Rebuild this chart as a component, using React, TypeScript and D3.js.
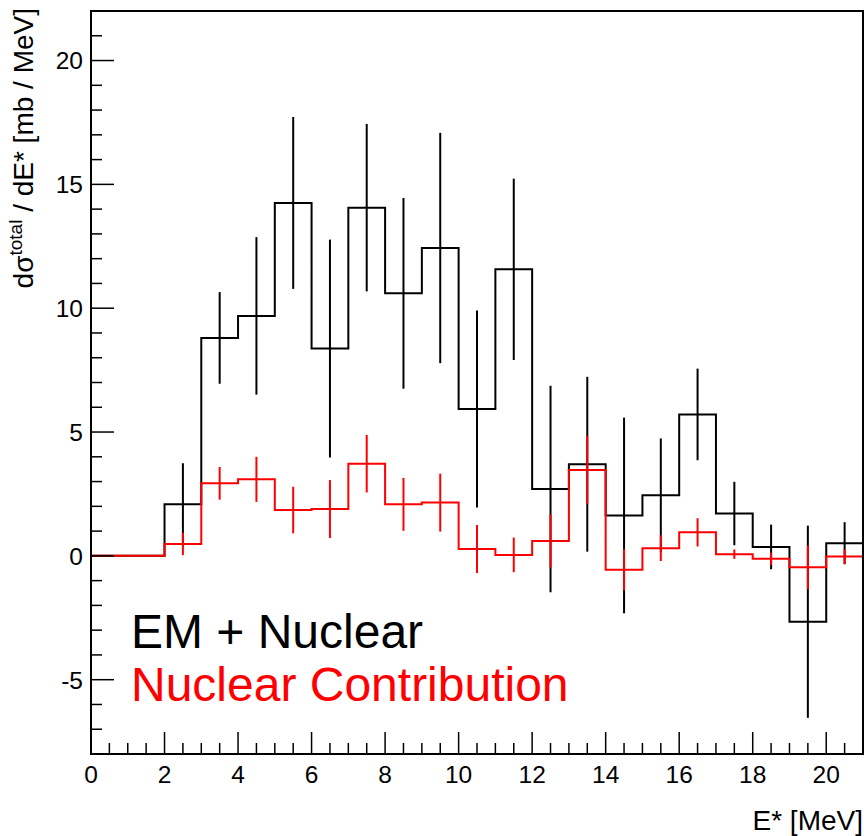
import React from "react";
import * as d3 from "d3";

// Bin lower edges (width 1 MeV)
const binEdges = [0,1,2,3,4,5,6,7,8,9,10,11,12,13,14,15,16,17,18,19,20];
const binWidth = 1;

// EM + Nuclear
const emValues = [0,0,2.08,8.80,9.69,14.25,8.37,14.06,10.60,12.43,5.93,11.57,2.70,3.70,1.63,2.45,5.71,1.71,0.36,-2.66,0.51];
const emErrors = [0,0,1.66,1.85,3.18,3.47,4.40,3.38,3.85,4.65,3.98,3.66,4.17,3.53,3.95,2.29,1.85,1.28,0.90,3.88,0.85];

// Nuclear contribution
const nucValues = [0,0,0.48,2.93,3.09,1.85,1.89,3.72,2.08,2.15,0.28,0.04,0.60,3.47,-0.56,0.31,0.95,0.07,-0.12,-0.46,-0.03];
const nucErrors = [0,0,0.45,0.66,0.91,0.94,1.17,1.16,1.07,1.17,0.97,0.70,1.07,1.38,0.83,0.52,0.57,0.19,0.25,0.88,0.30];

const xMajorTicks = [0,2,4,6,8,10,12,14,16,18,20];
const yMajorTicks = [-5,0,5,10,15,20];

const legendLabels = ["EM + Nuclear", "Nuclear Contribution"];

const FONT = "'Liberation Sans', Arial, Helvetica, sans-serif";

export default function App() {
  const W = 864, H = 836;
  const left = 91, right = 863, top = 11, bottom = 754;
  const x = d3.scaleLinear().domain([0, 21]).range([left, right]);
  const y = d3.scaleLinear().domain([-8, 22]).range([bottom, top]);

  const stepPath = (vals: number[]) => {
    const pts: [number, number][] = vals.map((v, i) => [binEdges[i], v]);
    pts.push([binEdges[binEdges.length - 1] + binWidth, vals[vals.length - 1]]);
    return d3.line<[number, number]>()
      .x(d => x(d[0]))
      .y(d => y(d[1]))
      .curve(d3.curveStepAfter)(pts) as string;
  };

  const errBars = (vals: number[], errs: number[], color: string) =>
    vals.map((v, i) => {
      if (errs[i] <= 0) return null;
      const cx = x(binEdges[i] + binWidth / 2);
      return (
        <line key={i} x1={cx} x2={cx} y1={y(v - errs[i])} y2={y(v + errs[i])}
          stroke={color} strokeWidth={2} />
      );
    });

  const xMinor = d3.range(0, 21.01, 0.5).filter(v => !xMajorTicks.includes(v));
  const yMinor = d3.range(-7, 22.01, 1).filter(v => !yMajorTicks.includes(v));

  return (
    <svg width={W} height={H} style={{ position: "absolute", left: 0, top: 0, background: "#fff" }}>
      <rect x={0} y={0} width={W} height={H} fill="#fff" />
      <defs>
        <clipPath id="plotclip">
          <rect x={left} y={top} width={right - left} height={bottom - top} />
        </clipPath>
      </defs>

      <g clipPath="url(#plotclip)">
        <path d={stepPath(emValues)} fill="none" stroke="#000" strokeWidth={2} />
        {errBars(emValues, emErrors, "#000")}
        <path d={stepPath(nucValues)} fill="none" stroke="#ff0000" strokeWidth={2} />
        {errBars(nucValues, nucErrors, "#ff0000")}
      </g>

      {/* frame */}
      <rect x={left} y={top} width={right - left} height={bottom - top} fill="none" stroke="#000" strokeWidth={2} />

      {/* x ticks */}
      {xMajorTicks.map(t => (
        <g key={"xm" + t}>
          <line x1={x(t)} x2={x(t)} y1={bottom} y2={bottom - 22} stroke="#000" strokeWidth={1.5} />
          <text x={x(t)} y={783} textAnchor="middle" fontFamily={FONT} fontSize={24.5} fill="#000">{t}</text>
        </g>
      ))}
      {xMinor.map(t => (
        <line key={"xn" + t} x1={x(t)} x2={x(t)} y1={bottom} y2={bottom - 11} stroke="#000" strokeWidth={1.5} />
      ))}

      {/* y ticks */}
      {yMajorTicks.map(t => (
        <g key={"ym" + t}>
          <line x1={left} x2={left + 23} y1={y(t)} y2={y(t)} stroke="#000" strokeWidth={1.5} />
          <text x={83} y={y(t)} dy="0.36em" textAnchor="end" fontFamily={FONT} fontSize={24.5} fill="#000">{t}</text>
        </g>
      ))}
      {yMinor.map(t => (
        <line key={"yn" + t} x1={left} x2={left + 11} y1={y(t)} y2={y(t)} stroke="#000" strokeWidth={1.5} />
      ))}

      {/* axis titles */}
      <text x={863} y={830} textAnchor="end" fontFamily={FONT} fontSize={28} fill="#000">E* [MeV]</text>
      <text transform="translate(33,8) rotate(-90)" textAnchor="end" fontFamily={FONT} fontSize={28} fill="#000">
        dσ<tspan fontSize={19} dy={-11}>total</tspan><tspan dy={11}> / dE* [mb / MeV]</tspan>
      </text>

      {/* legend text */}
      <text x={131} y={648} fontFamily={FONT} fontSize={48} fill="#000">{legendLabels[0]}</text>
      <text x={131} y={701} fontFamily={FONT} fontSize={48} fill="#ff0000">{legendLabels[1]}</text>
    </svg>
  );
}
